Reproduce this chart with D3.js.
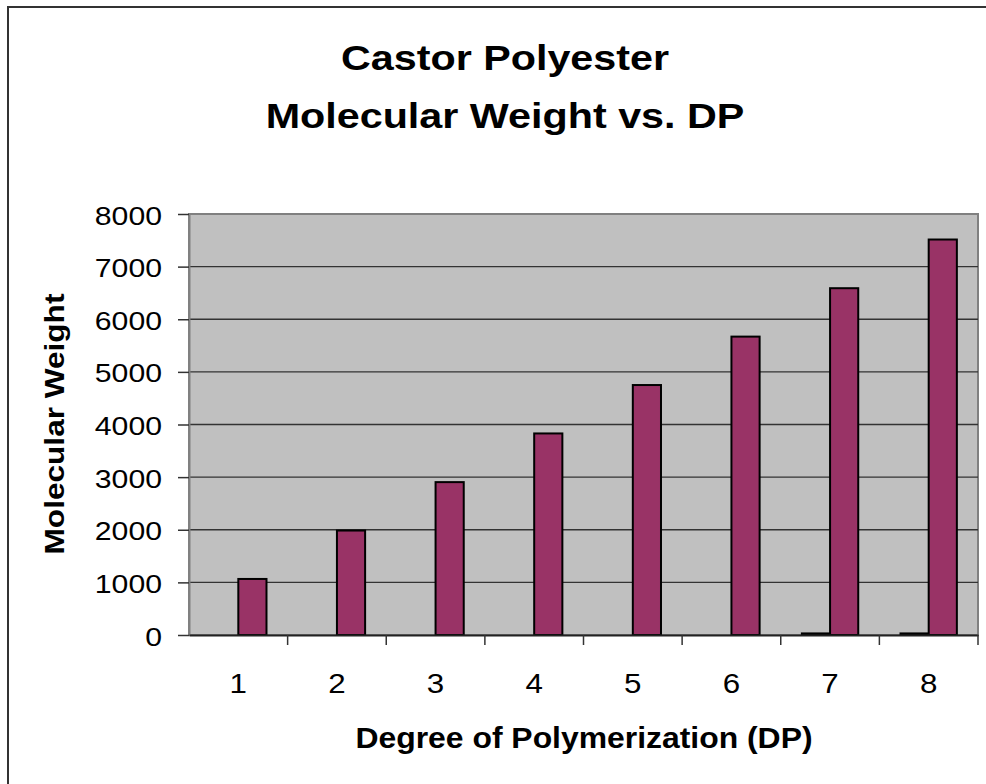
<!DOCTYPE html>
<html lang="en">
<head>
  <title>Castor Polyester</title>
  <meta charset="utf-8">
  <script src="https://d3js.org/d3.v7.min.js"></script>
  <style>
    body { margin: 0; background: #fff; }
    text { font-family: "Liberation Sans", Arial, sans-serif; fill: #000; }
  </style>
</head>
<body>

<svg id="chart" width="986" height="784"></svg>

<script>

// data
var dp = ["1", "2", "3", "4", "5", "6", "7", "8"];
// first series is almost nothing, only 7 and 8 show a thin sliver
var seriesA = [null, null, null, null, null, null, 30, 30];
var molWeight = [1065, 1985, 2905, 3830, 4750, 5670, 6590, 7515];
var yTicks = [0, 1000, 2000, 3000, 4000, 5000, 6000, 7000, 8000];
var titleLines = ["Castor Polyester", "Molecular Weight vs. DP"];

// the reference text is drawn a bit wide, so stretch it
var stretch = 1.17;

var svg = d3.select("#chart");

var plot = {left: 189, right: 978, top: 214, bottom: 635};

// outer chart frame (runs off the bottom/right of the picture)
svg.append("rect")
    .attr("x", 8).attr("y", 7)
    .attr("width", 1000).attr("height", 800)
    .attr("fill", "#fff")
    .attr("stroke", "#333")
    .attr("stroke-width", 2);

var x0 = d3.scaleBand()
    .domain(dp)
    .range([plot.left, plot.right]);

var x1 = d3.scaleBand()
    .domain([0, 1])
    .range([0, x0.bandwidth()])
    .paddingInner(0)
    .paddingOuter(0.75);

var y = d3.scaleLinear()
    .domain([0, 8000])
    .range([plot.bottom, plot.top]);

// plot area
svg.append("rect")
    .attr("x", plot.left).attr("y", plot.top)
    .attr("width", plot.right - plot.left)
    .attr("height", plot.bottom - plot.top)
    .attr("fill", "#c0c0c0")
    .attr("stroke", "#808080")
    .attr("stroke-width", 2);

// gridlines
svg.append("g")
    .selectAll("line")
    .data(yTicks.filter(function(d) { return d > 0 && d < 8000; }))
    .enter()
    .append("line")
    .attr("x1", plot.left).attr("x2", plot.right)
    .attr("y1", function(d) { return y(d); })
    .attr("y2", function(d) { return y(d); })
    .attr("stroke", "#333")
    .attr("stroke-width", 1.3);

// bars
var groups = svg.append("g")
    .selectAll("g")
    .data(dp)
    .enter()
    .append("g")
    .attr("transform", function(d) { return "translate(" + x0(d) + ",0)"; });

groups.each(function(d, i) {
    var g = d3.select(this);
    var vals = [seriesA[i], molWeight[i]];
    vals.forEach(function(v, j) {
        if (v == null) return;
        g.append("rect")
            .attr("x", x1(j))
            .attr("y", y(v))
            .attr("width", x1.bandwidth())
            .attr("height", y(0) - y(v))
            .attr("fill", "#993366")
            .attr("stroke", "#000")
            .attr("stroke-width", 2);
    });
});

// y axis
var yAxis = svg.append("g")
    .attr("transform", "translate(" + plot.left + ",0)")
    .call(d3.axisLeft(y).tickValues(yTicks).tickSize(11).tickSizeOuter(0)
        .tickFormat(function(d) { return String(d); }));

yAxis.select(".domain").attr("stroke", "#808080").attr("stroke-width", 2);
yAxis.selectAll(".tick line").attr("stroke", "#333").attr("stroke-width", 1.5);
yAxis.selectAll(".tick text")
    .attr("x", null).attr("dy", null)
    .attr("transform", "translate(-27,10) scale(1.14,1)")
    .style("font-size", "26.5px");

// x axis: labels centred in the bands, ticks on band edges
var xAxis = svg.append("g")
    .attr("transform", "translate(0," + plot.bottom + ")")
    .call(d3.axisBottom(x0).tickSize(0).tickSizeOuter(0));

xAxis.select(".domain").attr("stroke", "#222").attr("stroke-width", 2);
xAxis.selectAll(".tick text")
    .attr("y", null).attr("dy", null)
    .attr("transform", "translate(0,58) scale(1.12,1)")
    .style("font-size", "28px");

xAxis.selectAll(".edge")
    .data(dp.slice(1).concat(["end"]))
    .enter()
    .append("line")
    .attr("class", "edge")
    .attr("x1", function(d) { return d == "end" ? plot.right : x0(d); })
    .attr("x2", function(d) { return d == "end" ? plot.right : x0(d); })
    .attr("y1", 0).attr("y2", 10)
    .attr("stroke", "#333")
    .attr("stroke-width", 1.5);

// titles
svg.append("g")
    .selectAll("text")
    .data(titleLines)
    .enter()
    .append("text")
    .attr("text-anchor", "middle")
    .attr("transform", function(d, i) {
        return "translate(505," + (70 + i * 58) + ") scale(1.18,1)";
    })
    .style("font-size", "35px")
    .style("font-weight", "bold")
    .text(function(d) { return d; });

svg.append("text")
    .attr("text-anchor", "middle")
    .attr("transform", "translate(584,748) scale(1.1,1)")
    .style("font-size", "29px")
    .style("font-weight", "bold")
    .text("Degree of Polymerization (DP)");

svg.append("text")
    .attr("text-anchor", "middle")
    .attr("transform", "translate(64,424) rotate(-90) scale(" + stretch + ",1)")
    .style("font-size", "27px")
    .style("font-weight", "bold")
    .text("Molecular Weight");

</script>

</body>
</html>
